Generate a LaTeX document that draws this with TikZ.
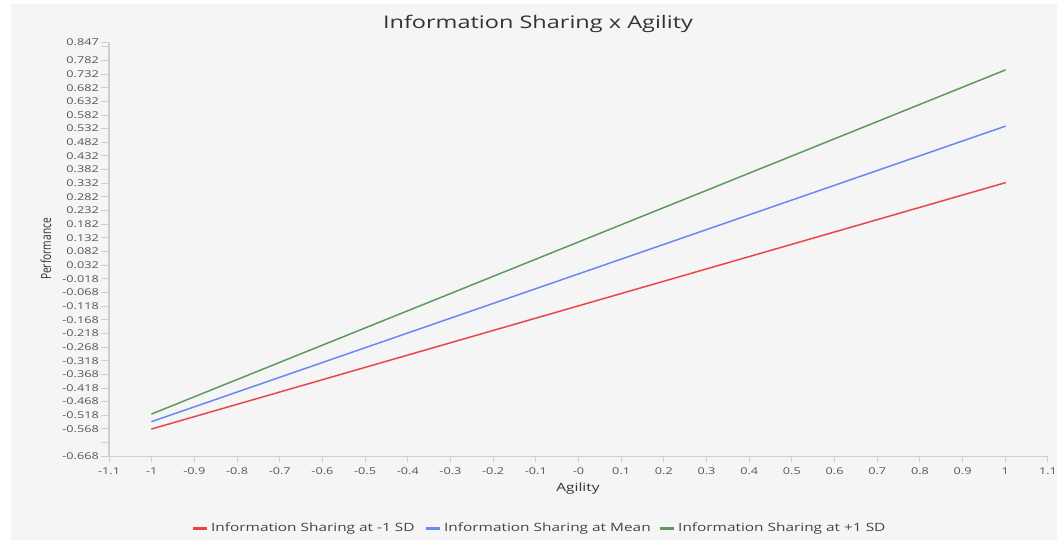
\documentclass[tikz,border=0pt]{standalone}
\usepackage{fontspec}
\setmainfont{Open Sans}
\definecolor{bgc}{HTML}{F5F5F5}
\definecolor{axc}{HTML}{CFCFCF}
\definecolor{labc}{HTML}{555555}
\definecolor{titlec}{HTML}{333333}
\definecolor{legc}{HTML}{444444}
\definecolor{redc}{HTML}{E8474A}
\definecolor{bluec}{HTML}{6A88F0}
\definecolor{greenc}{HTML}{5E9A5E}
% wide text, as the chart's font is set
\newcommand{\stretchtxt}[1]{\scalebox{1.35}[1]{#1}}
\tikzset{
  axisline/.style={draw=axc, line width=1.2pt},
  tickmark/.style={draw=axc, line width=1pt},
  ticklab/.style={font=\fontsize{9.4}{11}\selectfont, text=labc, inner sep=0pt},
  titletxt/.style={font=\fontsize{17.4}{20}\selectfont, text=titlec, inner sep=0pt},
  axtitle/.style={font=\fontsize{11.4}{13}\selectfont, text=titlec, inner sep=0pt},
  legtxt/.style={font=\fontsize{11.4}{13}\selectfont, text=legc, inner sep=0pt},
  series/.style={line width=1.5pt, line cap=round},
  swatch/.style={line width=3.3pt}
}
\begin{document}
\begin{tikzpicture}[x=1pt,y=-1pt]
\useasboundingbox (0,0) rectangle (1060,540);
\fill[bgc] (11,4) rectangle (1057,540);

% title
\node[titletxt, anchor=base] (title) at (538,28.7) {\stretchtxt{Information Sharing x Agility}};

% axes
\coordinate (ytop) at (109,42.7);
\coordinate (orig) at (109,456.3);
\coordinate (xend) at (1048,456.3);
\draw[axisline] (ytop) -- (orig) -- (xend);

% axis titles
\node[axtitle, anchor=base] (xtitle) at (578,491) {\stretchtxt{Agility}};
\node[axtitle, rotate=90, anchor=base] (ytitle) at (51,249)
  {\scalebox{1}[1.35]{\fontsize{10.2}{12}\selectfont Performance}};

% data frame: Agility on x, Performance on y
\begin{scope}[shift={(578.5,273.9)}, x=426.8pt, y=273pt]
  % x ticks and labels
  \foreach \v/\t [count=\i] in {-1.1/-1.1,-1/-1,-0.9/-0.9,-0.8/-0.8,-0.7/-0.7,-0.6/-0.6,
      -0.5/-0.5,-0.4/-0.4,-0.3/-0.3,-0.2/-0.2,-0.1/-0.1,0/-0,0.1/0.1,0.2/0.2,0.3/0.3,
      0.4/0.4,0.5/0.5,0.6/0.6,0.7/0.7,0.8/0.8,0.9/0.9,1/1,1.1/1.1} {
    \coordinate (xtk\i) at (\v,-0.668);
    \draw[tickmark] (xtk\i) -- ++(0pt,-5.5pt);
    \node[ticklab, anchor=base] (xlab\i) at ([yshift=-18pt]xtk\i) {\stretchtxt{\t}};
  }
  % y ticks with labels
  \foreach \v [count=\i] in {0.847,0.782,0.732,0.682,0.632,0.582,0.532,0.482,0.432,0.382,
      0.332,0.282,0.232,0.182,0.132,0.082,0.032,-0.018,-0.068,-0.118,-0.168,-0.218,
      -0.268,-0.318,-0.368,-0.418,-0.468,-0.518,-0.568,-0.668} {
    \coordinate (ytk\i) at (-1.1,\v);
    \draw[tickmark] (ytk\i) -- ++(-8pt,0pt);
    \node[ticklab, anchor=base east] (ylab\i) at ([xshift=-10pt,yshift=-3.3pt]ytk\i) {\stretchtxt{\v}};
  }
  % y ticks without labels
  \coordinate (ytkA) at (-1.1,0.832);
  \coordinate (ytkB) at (-1.1,-0.618);
  \draw[tickmark] (ytkA) -- ++(-8pt,0pt);
  \draw[tickmark] (ytkB) -- ++(-8pt,0pt);

  % fitted lines
  \coordinate (r0) at (-1,-0.568);  \coordinate (r1) at (1,0.334);
  \coordinate (b0) at (-1,-0.541);  \coordinate (b1) at (1,0.541);
  \coordinate (g0) at (-1,-0.513);  \coordinate (g1) at (1,0.747);
  \draw[series, redc] (r0) -- (r1);
  \draw[series, bluec] (b0) -- (b1);
  \draw[series, greenc] (g0) -- (g1);
\end{scope}

% legend
\coordinate (sr0) at (193,528.3); \coordinate (sr1) at (207,528.3);
\coordinate (sb0) at (426,528.3); \coordinate (sb1) at (440,528.3);
\coordinate (sg0) at (660,528.3); \coordinate (sg1) at (674,528.3);
\draw[swatch, redc] (sr0) -- (sr1);
\draw[swatch, bluec] (sb0) -- (sb1);
\draw[swatch, greenc] (sg0) -- (sg1);
\node[legtxt, anchor=base west] (legr) at (211,531.7) {\stretchtxt{Information Sharing at -1 SD}};
\node[legtxt, anchor=base west] (legb) at (444,531.7) {\stretchtxt{Information Sharing at Mean}};
\node[legtxt, anchor=base west] (legg) at (678,531.7) {\stretchtxt{Information Sharing at +1 SD}};
\end{tikzpicture}
\end{document}
